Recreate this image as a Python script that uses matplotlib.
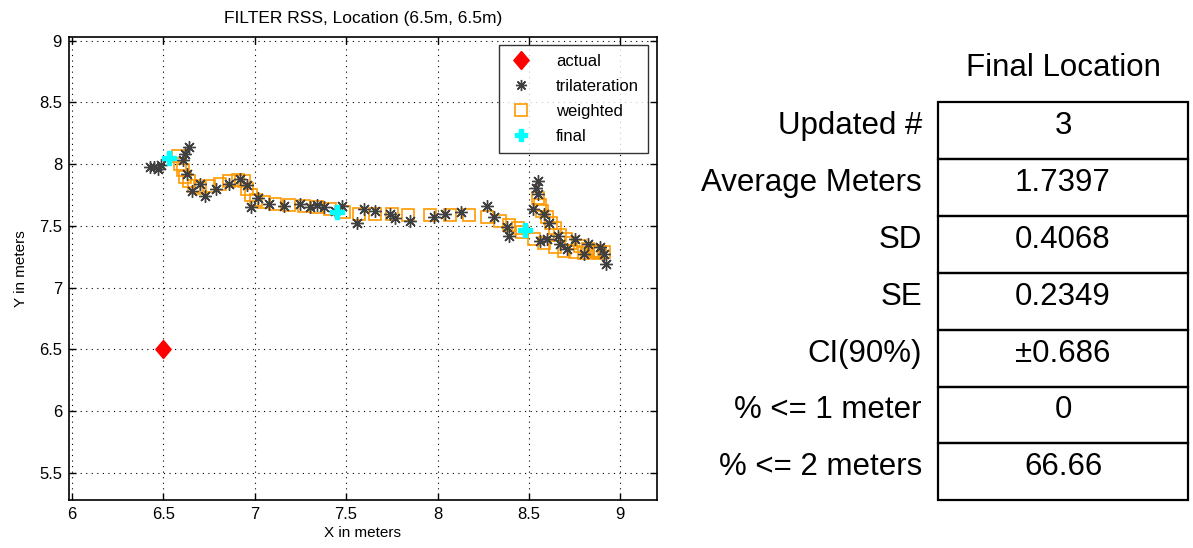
import matplotlib
matplotlib.use("Agg")
import matplotlib.pyplot as plt
from matplotlib.patches import Rectangle
from matplotlib.lines import Line2D

# ---------------- data ----------------
actual_x = [6.5]
actual_y = [6.5]

tri_x = [6.43, 6.45, 6.47, 6.49, 6.64, 6.62, 6.61, 6.63, 6.70, 6.73, 6.66, 6.79,
         6.86, 6.92, 6.96, 6.98, 7.02, 7.08, 7.16, 7.25, 7.30, 7.34, 7.38, 7.44,
         7.56, 7.48, 7.60, 7.66, 7.74, 7.77, 7.85, 7.98, 8.04, 8.13, 8.27, 8.31,
         8.38, 8.39, 8.55, 8.54, 8.55, 8.52, 8.58, 8.61, 8.56, 8.60, 8.67, 8.66,
         8.71, 8.75, 8.82, 8.89, 8.92, 8.91, 8.80]
tri_y = [7.98, 7.98, 7.96, 7.99, 8.14, 8.08, 8.03, 7.92, 7.84, 7.74, 7.78, 7.80,
         7.84, 7.88, 7.83, 7.65, 7.73, 7.68, 7.66, 7.68, 7.65, 7.67, 7.65, 7.62,
         7.52, 7.66, 7.64, 7.62, 7.60, 7.56, 7.54, 7.57, 7.60, 7.61, 7.66, 7.57,
         7.49, 7.42, 7.86, 7.81, 7.76, 7.64, 7.60, 7.52, 7.38, 7.39, 7.35, 7.42,
         7.31, 7.39, 7.35, 7.33, 7.19, 7.27, 7.27]

w_x = [6.58, 6.59, 6.61, 6.62, 6.64, 6.67, 6.70, 6.75, 6.81, 6.86, 6.91, 6.94,
       6.96, 6.98, 7.01, 7.05, 7.11, 7.19, 7.27, 7.34, 7.41, 7.49, 7.57, 7.66,
       7.75, 7.84, 7.96, 8.07, 8.17, 8.27, 8.34, 8.39, 8.44, 8.46,
       8.55, 8.56, 8.57, 8.60, 8.62, 8.64, 8.67, 8.70, 8.73, 8.78, 8.82, 8.86,
       8.89, 8.91, 8.53, 8.58, 8.64, 8.69, 8.75, 8.80, 8.85, 8.88]
w_y = [8.07, 8.00, 7.95, 7.90, 7.86, 7.82, 7.81, 7.82, 7.84, 7.86, 7.87, 7.86,
       7.80, 7.75, 7.71, 7.69, 7.68, 7.67, 7.66, 7.65, 7.64, 7.61, 7.60, 7.60,
       7.60, 7.59, 7.59, 7.59, 7.59, 7.57, 7.54, 7.51, 7.48, 7.45,
       7.73, 7.67, 7.62, 7.57, 7.52, 7.48, 7.43, 7.39, 7.36, 7.34, 7.31, 7.30,
       7.29, 7.29, 7.39, 7.36, 7.33, 7.30, 7.29, 7.28, 7.30, 7.28]

final_x = [6.53, 7.45, 8.48]
final_y = [8.05, 7.61, 7.47]

x_ticks = [6, 6.5, 7, 7.5, 8, 8.5, 9]
y_ticks = [5.5, 6, 6.5, 7, 7.5, 8, 8.5, 9]

title = "FILTER RSS, Location (6.5m, 6.5m)"
table_title = "Final Location"
row_labels = ["Updated #", "Average Meters", "SD", "SE", "CI(90%)",
              "% <= 1 meter", "% <= 2 meters"]
row_values = ["3", "1.7397", "0.4068", "0.2349", "\u00b10.686", "0", "66.66"]

# ---------------- figure ----------------
W, H = 1193, 548
fig = plt.figure(figsize=(W / 100, H / 100), dpi=100)
fig.patch.set_facecolor("white")
font = "Liberation Sans"

ax = fig.add_axes([69 / W, 1 - 500 / H, (657 - 69) / W, (500 - 37) / H])
ax.set_xlim(5.985, 9.2)
ax.set_ylim(5.28, 9.03)

gray = "#404040"
orange = "#FF9900"
diamond = [(0, 1), (0.85, 0), (0, -1), (-0.85, 0), (0, 1)]

ax.plot(w_x, w_y, linestyle="none", marker="s", markersize=9,
        markerfacecolor="none", markeredgecolor=orange, markeredgewidth=1.2,
        label="weighted", zorder=3)
ax.plot(tri_x, tri_y, linestyle="none", marker=(8, 2, 0), markersize=9,
        color=gray, markeredgewidth=1.0, label="trilateration", zorder=4)
ax.plot(actual_x, actual_y, linestyle="none", marker=diamond, markersize=13,
        color="red", label="actual", zorder=5)
ax.plot(final_x, final_y, linestyle="none", marker="P", markersize=10,
        color="cyan", label="final", zorder=5)

ax.set_xticks(x_ticks)
ax.set_yticks(y_ticks)
ax.set_xticklabels([f"{v:g}" for v in x_ticks], fontfamily=font, fontsize=12)
ax.set_yticklabels([f"{v:g}" for v in y_ticks], fontfamily=font, fontsize=12)
ax.tick_params(direction="in", length=5, width=1, top=True, right=True, pad=5)
ax.grid(True, linestyle=(0, (1, 4)), color="black", linewidth=0.8)
for s in ax.spines.values():
    s.set_linewidth(1.2)

ax.set_title(title, fontfamily=font, fontsize=12.5, pad=10)
ax.set_xlabel("X in meters", fontfamily=font, fontsize=11, labelpad=3)
ax.set_ylabel("Y in meters", fontfamily=font, fontsize=11, labelpad=8)

handles = [
    Line2D([], [], linestyle="none", marker=diamond, markersize=13, color="red"),
    Line2D([], [], linestyle="none", marker=(8, 2, 0), markersize=8, color=gray),
    Line2D([], [], linestyle="none", marker="s", markersize=9,
           markerfacecolor="none", markeredgecolor=orange, markeredgewidth=1.2),
    Line2D([], [], linestyle="none", marker="P", markersize=9, color="cyan"),
]
leg = ax.legend(handles, ["actual", "trilateration", "weighted", "final"],
                loc="upper right", bbox_to_anchor=(0.985, 0.983),
                prop={"family": font, "size": 12}, frameon=True, fancybox=False,
                edgecolor="black", borderpad=0.55, labelspacing=0.6,
                handletextpad=1.3, handlelength=1.6, borderaxespad=0)
leg.get_frame().set_linewidth(1.0)

# ---------------- table ----------------
tax = fig.add_axes([680 / W, 0, (W - 680) / W, 1])
tax.set_xlim(680, W)
tax.set_ylim(H, 0)
tax.axis("off")

tbl_left, tbl_right = 938, 1188
tbl_top, row_h = 102, 56.9
fs = 22.5
tax.text((tbl_left + tbl_right) / 2, 68, table_title, ha="center", va="center",
         fontfamily=font, fontsize=fs)
for i, (lab, val) in enumerate(zip(row_labels, row_values)):
    top = tbl_top + i * row_h
    tax.add_patch(Rectangle((tbl_left, top), tbl_right - tbl_left, row_h,
                            fill=False, edgecolor="black", linewidth=1.6))
    tax.text((tbl_left + tbl_right) / 2, top + 24, val, ha="center", va="center",
             fontfamily=font, fontsize=fs)
    tax.text(922, top + 24, lab, ha="right", va="center",
             fontfamily=font, fontsize=fs)

fig.savefig("out.png", dpi=100)
